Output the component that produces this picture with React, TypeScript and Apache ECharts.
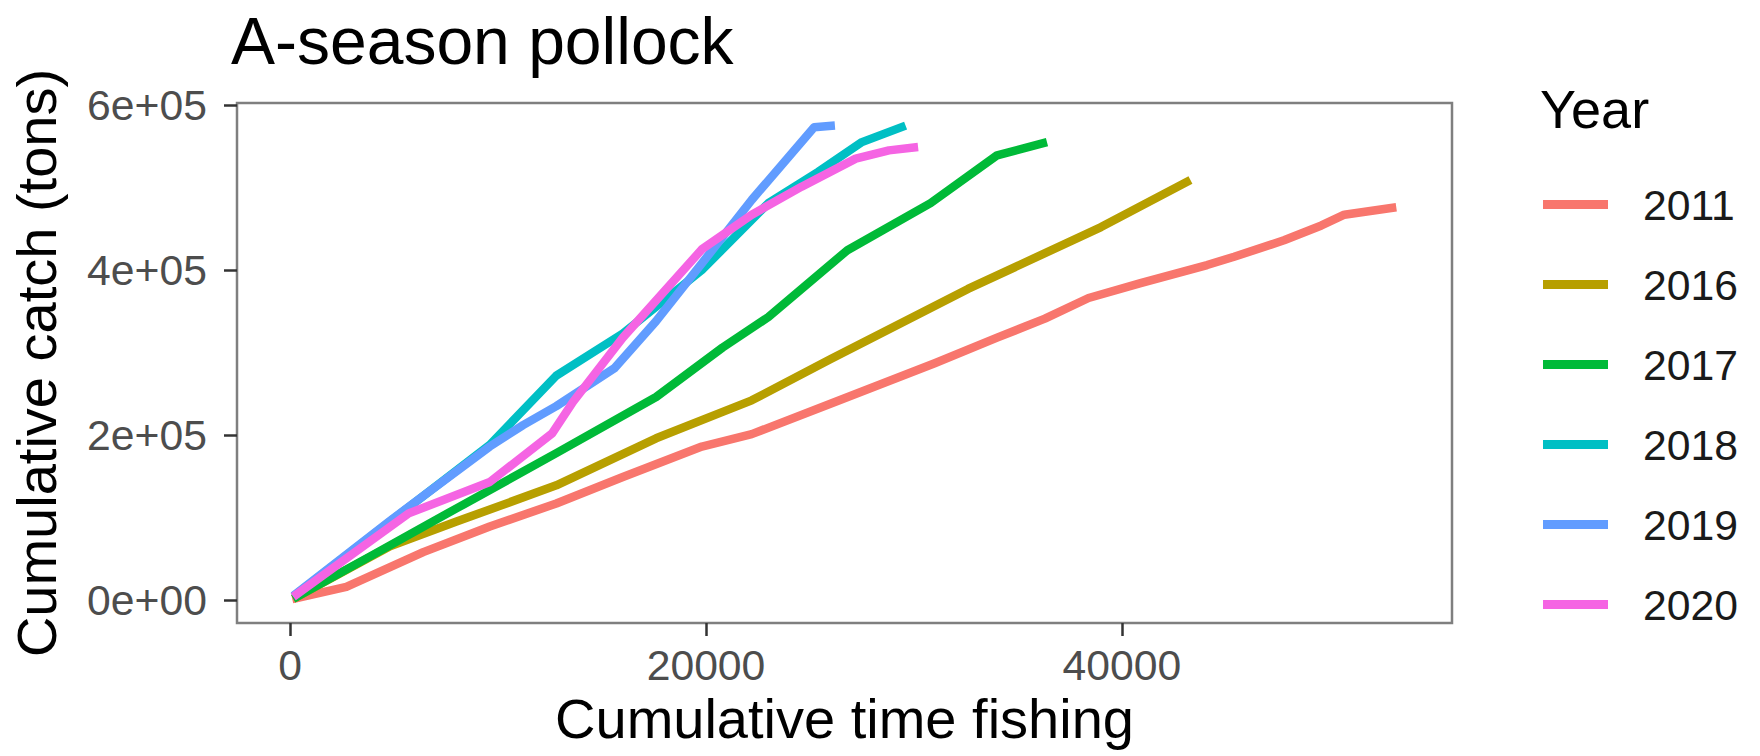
import React, { useEffect, useRef } from 'react';
import * as echarts from 'echarts';

const years = ['2011', '2016', '2017', '2018', '2019', '2020'];
const colors = ['#F8766D', '#B79F00', '#00BA38', '#00BFC4', '#619CFF', '#F564E3'];

const x2011 = [100, 2700, 6400, 9600, 12800, 16000, 19800, 22200, 26200, 31000, 34000, 36300, 38400, 40900, 44100, 45400, 47800, 49600, 50700, 53200];
const y2011 = [1000, 16000, 58000, 89000, 117000, 149000, 186000, 201000, 240000, 287000, 318000, 341000, 366000, 384000, 406000, 416000, 436000, 454000, 467000, 476000];

const x2016 = [150, 4800, 8000, 12800, 17600, 20800, 22200, 26000, 32600, 39000, 43300];
const y2016 = [1500, 65000, 95000, 139000, 196000, 228000, 242000, 292000, 377000, 452000, 509000];

const x2017 = [150, 4000, 8000, 12800, 17600, 20800, 23000, 26800, 30800, 34000, 36400];
const y2017 = [1500, 55000, 111000, 178000, 246000, 306000, 343000, 424000, 481000, 539000, 555000];

const x2018 = [150, 4800, 9600, 12800, 16000, 19800, 23000, 25400, 27500, 29600];
const y2018 = [4000, 95000, 188000, 272000, 323000, 400000, 481000, 519000, 555000, 575000];

const x2019 = [150, 4800, 9600, 11200, 12800, 15600, 17600, 19800, 22200, 25200, 26200];
const y2019 = [5000, 96000, 186000, 212000, 235000, 281000, 338000, 408000, 485000, 573000, 575000];

const x2020 = [150, 5700, 9600, 12600, 13600, 16000, 19800, 22200, 24600, 27200, 28800, 30200];
const y2020 = [4000, 105000, 143000, 202000, 240000, 318000, 425000, 467000, 501000, 535000, 545000, 549000];

const xTickValues = [0, 20000, 40000];
const xTickLabels = ['0', '20000', '40000'];
const yTickValues = [0, 200000, 400000, 600000];
const yTickLabels = ['0e+00', '2e+05', '4e+05', '6e+05'];

const FONT = '"Liberation Sans", Arial, Helvetica, sans-serif';

export default function App() {
  const ref = useRef<HTMLDivElement>(null);

  useEffect(() => {
    if (!ref.current) return;
    const chart = echarts.init(ref.current, null, { renderer: 'svg' });
    const xs = [x2011, x2016, x2017, x2018, x2019, x2020];
    const ys = [y2011, y2016, y2017, y2018, y2019, y2020];

    chart.setOption({
      animation: false,
      backgroundColor: '#ffffff',
      title: [
        {
          text: 'A-season pollock',
          left: 231,
          top: 8,
          padding: 0,
          textStyle: { fontFamily: FONT, fontSize: 66, fontWeight: 'normal', color: '#000000', lineHeight: 66 },
        },
        {
          text: 'Year',
          left: 1540,
          top: 82,
          padding: 0,
          textStyle: { fontFamily: FONT, fontSize: 54, fontWeight: 'normal', color: '#000000', lineHeight: 54 },
        },
      ],
      legend: {
        orient: 'vertical',
        left: 1543,
        top: 183,
        padding: 0,
        itemWidth: 65,
        itemHeight: 9,
        itemGap: 37,
        icon: 'rect',
        selectedMode: false,
        data: years,
        textStyle: { fontFamily: FONT, fontSize: 42.7, color: '#1a1a1a', lineHeight: 43, padding: [0, 0, 0, 30] },
      },
      grid: {
        left: 234,
        top: 103,
        width: 1218,
        height: 520,
        show: true,
        borderColor: '#7f7f7f',
        borderWidth: 2.5,
        backgroundColor: '#ffffff',
      },
      xAxis: {
        type: 'value',
        min: -2558,
        max: 55880,
        name: 'Cumulative time fishing',
        nameLocation: 'middle',
        nameGap: 50,
        nameTextStyle: { fontFamily: FONT, fontSize: 56, color: '#000000', lineHeight: 56 },
        axisLine: { show: false, onZero: false },
        splitLine: { show: false },
        axisTick: { show: true, inside: false, customValues: xTickValues, length: 13, lineStyle: { color: '#333333', width: 2.5 } },
        axisLabel: {
          customValues: xTickValues,
          formatter: (v: number) => xTickLabels[xTickValues.indexOf(v)] ?? String(v),
          margin: 20,
          fontFamily: FONT,
          fontSize: 42.7,
          lineHeight: 43,
          color: '#4d4d4d',
        },
      },
      yAxis: {
        type: 'value',
        min: -27900,
        max: 602400,
        name: 'Cumulative catch (tons)',
        nameLocation: 'middle',
        nameGap: 173,
        nameTextStyle: { fontFamily: FONT, fontSize: 56, color: '#000000', lineHeight: 56 },
        axisLine: { show: false, onZero: false },
        splitLine: { show: false },
        axisTick: { show: true, inside: false, customValues: yTickValues, length: 13, lineStyle: { color: '#333333', width: 2.5 } },
        axisLabel: {
          customValues: yTickValues,
          formatter: (v: number) => yTickLabels[yTickValues.indexOf(v)] ?? String(v),
          margin: 30,
          fontFamily: FONT,
          fontSize: 42.7,
          lineHeight: 43,
          color: '#4d4d4d',
        },
      },
      series: years.map((name, i) => ({
        type: 'line',
        name,
        data: xs[i].map((x, j) => [x, ys[i][j]]),
        showSymbol: false,
        symbol: 'none',
        z: 2 + i,
        itemStyle: { color: colors[i] },
        lineStyle: { width: 8.5, color: colors[i], cap: 'butt', join: 'round' },
      })),
    });

    return () => chart.dispose();
  }, []);

  return <div ref={ref} style={{ position: 'fixed', left: 0, top: 0, width: 1760, height: 756 }} />;
}
